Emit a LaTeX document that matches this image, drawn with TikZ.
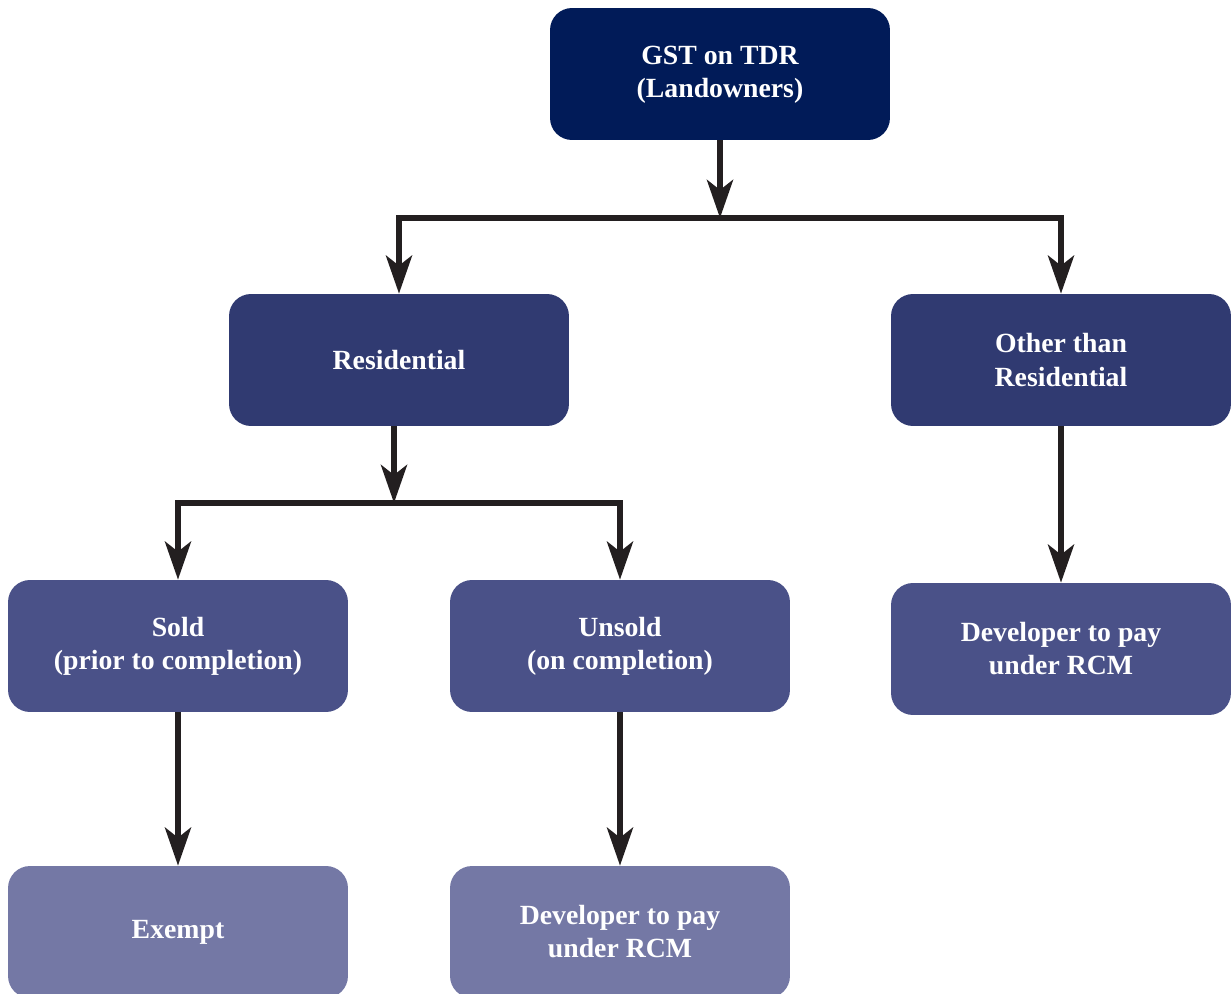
\documentclass[tikz,border=0pt]{standalone}
\usepackage{fontspec}
\setmainfont{Liberation Serif}
\usetikzlibrary{arrows.meta, positioning, calc}
\definecolor{navyTop}{RGB}{1,27,88}
\definecolor{navyOne}{RGB}{48,58,113}
\definecolor{navyTwo}{RGB}{74,81,136}
\definecolor{navyThree}{RGB}{116,120,165}
\definecolor{arrowInk}{RGB}{35,31,32}

\begin{document}
\begin{tikzpicture}[
  x=0.02cm, y=-0.02cm,
  box/.style={rectangle, rounded corners=0.44cm, minimum width=6.8cm, minimum height=2.64cm,
    align=center, text=white, font=\fontsize{15.8}{18.8}\selectfont\bfseries, inner sep=0pt},
  lvlzero/.style={box, fill=navyTop},
  lvlone/.style={box, fill=navyOne},
  lvltwo/.style={box, fill=navyTwo},
  lvlthree/.style={box, fill=navyThree},
  link/.style={line width=0.12cm, draw=arrowInk},
  arr/.style={link, -{Stealth[length=0.76cm, width=0.52cm, inset=0.2cm]}}
]
  \useasboundingbox (0,0) rectangle (1232,994);

  % Nodes
  \node[lvlzero] (gst) at (720,74) {\raisebox{-0.1cm}{\begin{tabular}{@{}c@{}}GST on TDR\\(Landowners)\end{tabular}}};
  \node[lvlone] (res) at (399,360) {Residential};
  \node[lvlone] (oth) at (1061,360) {Other than\\Residential};
  \node[lvltwo] (sold) at (178,646) {Sold\\(prior to completion)};
  \node[lvltwo] (unsold) at (620,646) {Unsold\\(on completion)};
  \node[lvltwo] (devr) at (1061,649) {Developer to pay\\under RCM};
  \node[lvlthree] (exempt) at (178,932) {Exempt};
  \node[lvlthree] (devb) at (620,932) {Developer to pay\\under RCM};

  % Junctions
  \coordinate (j1) at (720,218);
  \coordinate (j2) at (394,503);

  % First split
  \draw[arr] (gst.south) -- (j1);
  \draw[link] ($(res.north |- j1)+(-3,0)$) -- ($(oth.north |- j1)+(3,0)$);
  \draw[arr] (res.north |- j1) -- (res.north);
  \draw[arr] (oth.north |- j1) -- (oth.north);

  % Second split
  \draw[arr] (res.south -| j2) -- (j2);
  \draw[link] ($(sold.north |- j2)+(-3,0)$) -- ($(unsold.north |- j2)+(3,0)$);
  \draw[arr] (sold.north |- j2) -- (sold.north);
  \draw[arr] (unsold.north |- j2) -- (unsold.north);

  % Straight down
  \draw[arr] (oth.south) -- (devr.north);
  \draw[arr] (sold.south) -- (exempt.north);
  \draw[arr] (unsold.south) -- (devb.north);
\end{tikzpicture}
\end{document}
